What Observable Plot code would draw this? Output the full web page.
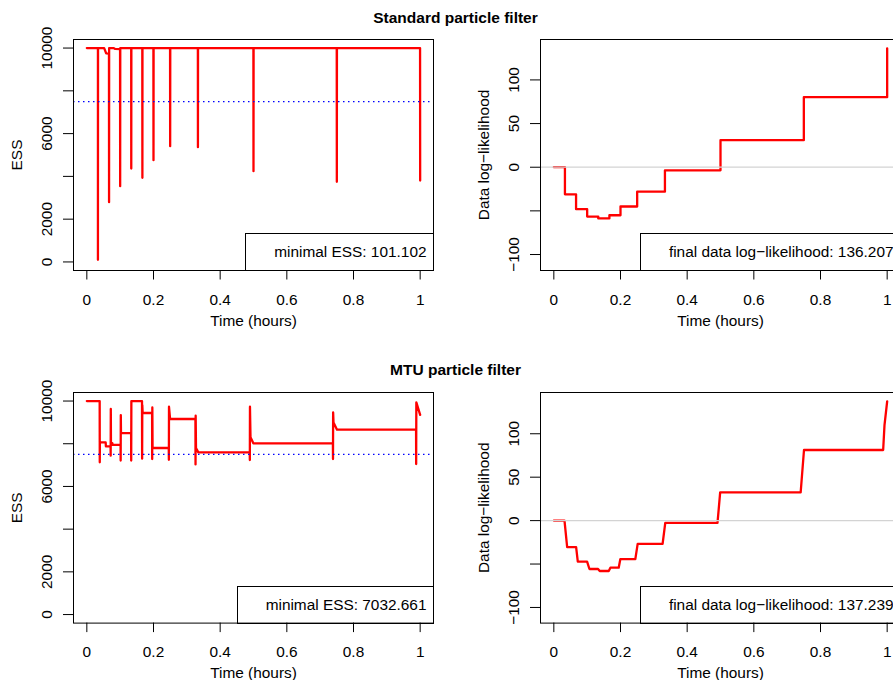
<!DOCTYPE html>
<html><head><meta charset="utf-8">
<script src="https://cdn.jsdelivr.net/npm/d3@7"></script>
<script src="https://cdn.jsdelivr.net/npm/@observablehq/plot@0.6"></script>
<style>
html,body{margin:0;padding:0;background:#fff;overflow:hidden;}
#page{position:relative;width:893px;height:680px;overflow:hidden;background:#fff;font-family:'Liberation Sans',Arial,Helvetica,sans-serif;}
.title{position:absolute;left:0;width:911px;text-align:center;font-weight:bold;font-size:15.5px;line-height:18px;color:#000;white-space:nowrap;}
.panel{position:absolute;width:466px;}
</style></head><body><div id="page"></div>
<script>
// ---------- data ----------
const titles = ["Standard particle filter", "MTU particle filter"];
const xAxisTitle = "Time (hours)";
const essTitle = "ESS";
const llTitle = "Data log\u2212likelihood";

const xTickValues = [0, 0.2, 0.4, 0.6, 0.8, 1];
const xTickLabels = ["0", "0.2", "0.4", "0.6", "0.8", "1"];
const essTickValues = [0, 2000, 4000, 6000, 8000, 10000];
const essTickLabels = ["0", "2000", "", "6000", "", "10000"];
const llTickValues = [-100, -50, 0, 50, 100];
const llTickLabels = ["\u2212100", "", "0", "50", "100"];

const essThreshold = 7500;
const llReference = 0;

// Standard particle filter: ESS
const stdEssTime = [0, 0.0333, 0.0333, 0.0336, 0.052, 0.058, 0.0664, 0.0667, 0.0669, 0.08, 0.085, 0.0997, 0.1, 0.1003,
  0.1331, 0.1333, 0.1336, 0.1664, 0.1667, 0.1669, 0.1997, 0.2, 0.2003, 0.2497, 0.25, 0.2503,
  0.3331, 0.3333, 0.3336, 0.4997, 0.5, 0.5003, 0.7497, 0.75, 0.7503, 0.9997, 1.0];
const stdEss = [10000, 10000, 101.102, 10000, 10000, 9750, 9740, 2793, 10000, 10000, 9960, 9950, 3541, 10000,
  10000, 4368, 10000, 10000, 3931, 10000, 10000, 4758, 10000, 10000, 5413, 10000,
  10000, 5367, 10000, 10000, 4243, 10000, 10000, 3744, 10000, 10000, 3807];

// Standard particle filter: data log-likelihood (step function)
const stdLLTime = [0, 0.0333, 0.0667, 0.1, 0.1333, 0.1667, 0.2, 0.25, 0.3333, 0.5, 0.75, 1.0];
const stdLL = [0, -31, -48, -56.5, -58.6, -55, -45, -28, -3.5, 31, 80.2, 136.207];

// MTU particle filter: ESS
const mtuEssTime = [0, 0.0385, 0.0388, 0.0392, 0.0565, 0.0572, 0.0712, 0.0715, 0.0719, 0.0724, 0.0765, 0.0772,
  0.1012, 0.1015, 0.1019, 0.1025, 0.1328, 0.1331, 0.1336, 0.1655, 0.1659, 0.1664, 0.1675,
  0.1958, 0.1961, 0.1965, 0.1972, 0.2458, 0.2461, 0.2465, 0.2498, 0.3258, 0.3261, 0.3265, 0.3275, 0.3345,
  0.4887, 0.4890, 0.4894, 0.4910, 0.4995, 0.7382, 0.7385, 0.7389, 0.7400, 0.7506, 0.9877, 0.9880, 0.9885, 1.0];
const mtuEss = [10000, 10000, 7130, 8060, 8060, 7880, 7880, 7440, 9630, 8030, 8030, 7950,
  7950, 7210, 9345, 8500, 8500, 7210, 10000, 10000, 7300, 9810, 9440,
  9440, 7285, 9700, 7800, 7800, 7250, 9733, 9158, 9158, 7032.661, 9312, 7800, 7595,
  7595, 7239, 9733, 8300, 8020, 8020, 7286, 9467, 9000, 8657, 8657, 7052, 9934, 9350];

// MTU particle filter: data log-likelihood
const mtuLLTime = [0, 0.032, 0.040, 0.0669, 0.0719, 0.0998, 0.1068, 0.1327, 0.1377, 0.1647, 0.1697, 0.1946, 0.1996,
  0.2445, 0.2515, 0.3263, 0.3343, 0.4910, 0.4990, 0.7405, 0.7505, 0.9880, 0.9920, 1.0];
const mtuLL = [0, 0, -30.5, -30.5, -47.3, -47.3, -55.7, -55.7, -58.0, -58.0, -54.2, -54.2, -44.3,
  -44.3, -26.7, -26.7, -2.7, -2.7, 32.4, 32.4, 81.3, 81.3, 110, 137.239];

const legends = ["minimal ESS: 101.102", "final data log\u2212likelihood: 136.207",
                 "minimal ESS: 7032.661", "final data log\u2212likelihood: 137.239"];

// ---------- layout ----------
const page = document.getElementById("page");
const W = 466, ML = 73, MR = 33, MT = 39;
const FONT = "'Liberation Sans', Arial, Helvetica, sans-serif";
const colLeft = [0, 466.7];
const rowTop = [0, 352.7];
const rowHeight = [340, 327];
const rowMB = [70, 57.4];
const titleTop = [8.6, 361.1];

titles.forEach((t, i) => {
  const d = document.createElement("div");
  d.className = "title";
  d.style.top = titleTop[i] + "px";
  d.textContent = t;
  page.append(d);
});

function panel(cfg) {
  const data = cfg.t.map((t, i) => ({t, v: cfg.v[i]}));
  const height = rowHeight[cfg.row], mb = rowMB[cfg.row];
  const plot = Plot.plot({
    width: W, height, marginLeft: ML, marginRight: MR, marginTop: MT, marginBottom: mb,
    style: {fontFamily: FONT, fontSize: "15.4px", background: "transparent", color: "#000"},
    x: {domain: [-0.04, 1.04], label: null},
    y: {domain: cfg.yDomain, label: null},
    marks: [
      Plot.line(data, {x: "t", y: "v", stroke: "#ff0000", strokeWidth: 2.3, curve: cfg.curve}),
      Plot.ruleY([cfg.ref], {stroke: cfg.refColor, strokeDasharray: cfg.refDash, strokeWidth: cfg.refWidth}),
      Plot.frame({stroke: "#000", strokeWidth: 1}),
      Plot.axisX({ticks: xTickValues, tickFormat: d => xTickLabels[xTickValues.indexOf(d)],
        tickSize: 9.5, tickPadding: 13.6, label: null}),
      Plot.axisY({ticks: cfg.yTicks, tickFormat: d => cfg.yLabels[cfg.yTicks.indexOf(d)],
        tickSize: 10, tickPadding: 11.3, tickRotate: -90, label: null}),
      Plot.text([xAxisTitle], {text: d => d, frameAnchor: "bottom", dy: 55, lineAnchor: "bottom", textAnchor: "middle"}),
      Plot.text([cfg.yTitle], {text: d => d, frameAnchor: "left", dx: -51.3, rotate: -90, lineAnchor: "bottom", textAnchor: "middle"}),
      Plot.text([cfg.legend], {text: d => d, frameAnchor: "bottom-right", dx: -7, dy: -18, textAnchor: "end", lineAnchor: "middle"})
    ]
  });
  const wrap = document.createElement("div");
  wrap.className = "panel";
  wrap.style.left = colLeft[cfg.col] + "px";
  wrap.style.top = rowTop[cfg.row] + "px";
  wrap.append(plot);
  page.append(wrap);
  // legend box (R-style, bottom-right)
  const txt = [...plot.querySelectorAll("text")].find(e => e.textContent === cfg.legend);
  if (txt) {
    const sr = plot.getBoundingClientRect(), tr = txt.getBoundingClientRect();
    const x0 = Math.round(tr.left - sr.left - 29) + 0.5;
    const fr = W - MR + 0.5, fb = height - mb;
    const rect = document.createElementNS("http://www.w3.org/2000/svg", "rect");
    rect.setAttribute("x", x0);
    rect.setAttribute("y", Math.round(fb - 37) + 0.5);
    rect.setAttribute("width", fr - x0);
    rect.setAttribute("height", 37);
    rect.setAttribute("fill", "none");
    rect.setAttribute("stroke", "#000");
    rect.setAttribute("stroke-width", 1);
    plot.append(rect);
  }
}

panel({row: 0, col: 0, t: stdEssTime, v: stdEss, curve: "linear", yDomain: [-400, 10400],
  yTicks: essTickValues, yLabels: essTickLabels, yTitle: essTitle, ref: essThreshold,
  refColor: "#0000ff", refDash: "1.5,3.5", refWidth: 1.2, legend: legends[0]});
panel({row: 0, col: 1, t: stdLLTime, v: stdLL, curve: "step-after", yDomain: [-118.3, 146.3],
  yTicks: llTickValues, yLabels: llTickLabels, yTitle: llTitle, ref: llReference,
  refColor: "#d3d3d3", refDash: null, refWidth: 1.2, legend: legends[1]});
panel({row: 1, col: 0, t: mtuEssTime, v: mtuEss, curve: "linear", yDomain: [-400, 10400],
  yTicks: essTickValues, yLabels: essTickLabels, yTitle: essTitle, ref: essThreshold,
  refColor: "#0000ff", refDash: "1.5,3.5", refWidth: 1.2, legend: legends[2]});
panel({row: 1, col: 1, t: mtuLLTime, v: mtuLL, curve: "linear", yDomain: [-118, 147.5],
  yTicks: llTickValues, yLabels: llTickLabels, yTitle: llTitle, ref: llReference,
  refColor: "#d3d3d3", refDash: null, refWidth: 1.2, legend: legends[3]});
</script></body></html>
